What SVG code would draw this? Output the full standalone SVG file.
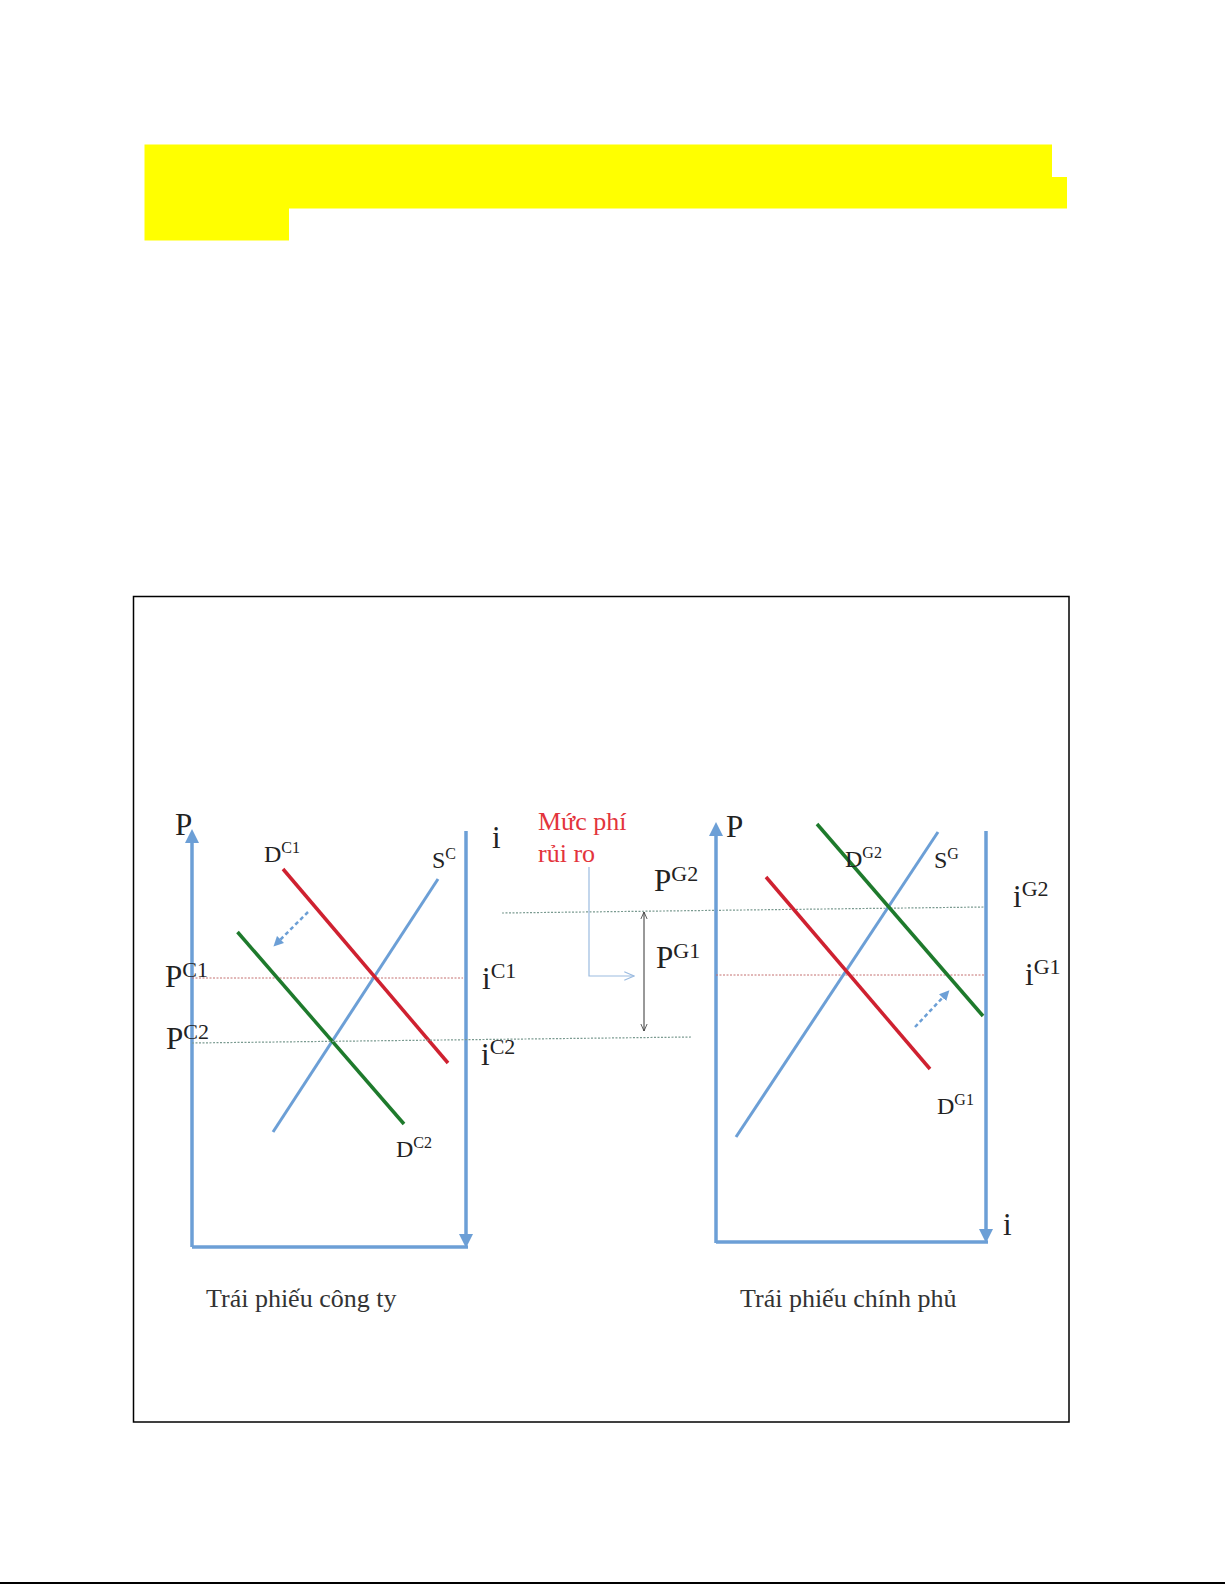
<svg xmlns="http://www.w3.org/2000/svg" width="1225" height="1585" viewBox="0 0 1225 1585">
<defs>
<style>
.ax{stroke:#6c9fd6;stroke-width:3.5;fill:none}
.sup{stroke:#6c9fd6;stroke-width:3;fill:none}
.red{stroke:#cf2130;stroke-width:3.5;fill:none}
.grn{stroke:#1e7a2c;stroke-width:3.5;fill:none}
.dotr{stroke:#c47070;stroke-width:1;stroke-dasharray:2 1.5;fill:none}
.dotg{stroke:#7a9a90;stroke-width:1.2;stroke-dasharray:2 1.5;fill:none}
.shift{stroke:#6c9fd6;stroke-width:2.5;stroke-dasharray:4 3;fill:none}
.t{font-family:"Liberation Serif","DejaVu Serif",serif;fill:#222}
.lb{font-size:31px}
.sm{font-size:24px}
.ss{font-size:22px}
.sp{font-size:16px}
.cap{font-size:26px;fill:#333}
.rd{font-family:"Liberation Serif","DejaVu Serif",serif;font-size:26px;fill:#e3343c}
</style>
<marker id="ah" viewBox="0 0 10 10" refX="5" refY="5" markerWidth="4" markerHeight="4" orient="auto-start-reverse"><path d="M0,0 L10,5 L0,10 z" fill="#6c9fd6"/></marker>
<marker id="ad" viewBox="0 0 10 10" refX="5" refY="5" markerWidth="4" markerHeight="4" orient="auto"><path d="M0,0 L10,5 L0,10 z" fill="#6c9fd6"/></marker>
<marker id="ab" viewBox="0 0 10 10" refX="9" refY="5" markerWidth="8" markerHeight="8" orient="auto-start-reverse"><path d="M0,1 L9,5 L0,9" fill="none" stroke="#333" stroke-width="1"/></marker>
<marker id="al" viewBox="0 0 10 10" refX="9" refY="5" markerWidth="9" markerHeight="9" orient="auto"><path d="M0,1 L9,5 L0,9" fill="none" stroke="#9bbbe0" stroke-width="1"/></marker>
</defs>
<rect width="1225" height="1585" fill="#fff"/>
<g id="highlight">
<path d="M144.5,144.5 H1052 V177 H1067 V208.5 H289 V240.5 H144.5 Z" fill="#ffff00"/>
</g>
<line x1="0" y1="1583" x2="1225" y2="1583" stroke="#000" stroke-width="2"/>
<rect id="frame" x="133.5" y="596.5" width="935.5" height="825.5" fill="none" stroke="#000" stroke-width="1.5"/>

<g id="left-chart">
<g id="left-axes">
<line class="ax" x1="192" y1="1247" x2="192" y2="836" marker-end="url(#ah)"/>
<line class="ax" x1="192" y1="1247" x2="468" y2="1247"/>
<line class="ax" x1="466" y1="831" x2="466" y2="1241" marker-end="url(#ad)"/>
</g>
<g id="left-lines">
<line class="dotr" x1="192" y1="978" x2="463" y2="978"/>
<line class="sup" x1="273" y1="1132" x2="438" y2="879"/>
<line class="red" x1="283" y1="869" x2="448" y2="1063"/>
<line class="grn" x1="237.5" y1="932" x2="404" y2="1124"/>
<line class="shift" x1="308" y1="912" x2="277" y2="943" marker-end="url(#ad)"/>
</g>
<g id="left-labels">
<text class="t lb" x="175" y="835">P</text>
<text class="t lb" x="492" y="848">i</text>
<text class="t sm" x="264" y="862">D<tspan class="sp" dy="-9">C1</tspan></text>
<text class="t sm" x="432" y="868">S<tspan class="sp" dy="-9">C</tspan></text>
<text class="t lb" x="165" y="987">P<tspan class="ss" dy="-10">C1</tspan></text>
<text class="t lb" x="166" y="1049">P<tspan class="ss" dy="-10">C2</tspan></text>
<text class="t lb" x="482" y="989">i<tspan class="ss" dy="-11">C1</tspan></text>
<text class="t lb" x="481" y="1065">i<tspan class="ss" dy="-11">C2</tspan></text>
<text class="t sm" x="396" y="1157">D<tspan class="sp" dy="-9">C2</tspan></text>
<text class="t cap" x="206" y="1307">Trái phiếu công ty</text>
</g>
</g>

<g id="connectors">
<line class="dotg" x1="192" y1="1043" x2="692" y2="1037"/>
<line class="dotg" x1="502" y1="913" x2="985" y2="907"/>
<polyline points="589,867 589,976 634,976" fill="none" stroke="#9bbbe0" stroke-width="1.2" marker-end="url(#al)"/>
<line x1="644" y1="912" x2="644" y2="1031" stroke="#333" stroke-width="1" marker-start="url(#ab)" marker-end="url(#ab)"/>
</g>

<g id="risk-label">
<text class="rd" x="538" y="830">Mức phí</text>
<text class="rd" x="538" y="862">rủi ro</text>
<text class="t lb" x="654" y="891">P<tspan class="ss" dy="-10">G2</tspan></text>
<text class="t lb" x="656" y="968">P<tspan class="ss" dy="-10">G1</tspan></text>
</g>

<g id="right-chart">
<g id="right-axes">
<line class="ax" x1="716" y1="1243" x2="716" y2="829" marker-end="url(#ah)"/>
<line class="ax" x1="716" y1="1242" x2="988" y2="1242"/>
<line class="ax" x1="986" y1="831" x2="986" y2="1236" marker-end="url(#ad)"/>
</g>
<g id="right-lines">
<line class="dotr" x1="716" y1="975" x2="985" y2="975"/>
<line class="sup" x1="736" y1="1137" x2="938" y2="832"/>
<line class="red" x1="766" y1="877" x2="930" y2="1069"/>
<line class="grn" x1="817" y1="824" x2="983" y2="1016"/>
<line class="shift" x1="915" y1="1027" x2="946" y2="994" marker-end="url(#ad)"/>
</g>
<g id="right-labels">
<text class="t lb" x="726" y="837">P</text>
<text class="t lb" x="1003" y="1235">i</text>
<text class="t sm" x="845" y="867">D<tspan class="sp" dy="-9">G2</tspan></text>
<text class="t sm" x="934" y="868">S<tspan class="sp" dy="-9">G</tspan></text>
<text class="t lb" x="1013" y="907">i<tspan class="ss" dy="-11">G2</tspan></text>
<text class="t lb" x="1025" y="985">i<tspan class="ss" dy="-11">G1</tspan></text>
<text class="t sm" x="937" y="1114">D<tspan class="sp" dy="-9">G1</tspan></text>
<text class="t cap" x="740" y="1307">Trái phiếu chính phủ</text>
</g>
</g>
</svg>
